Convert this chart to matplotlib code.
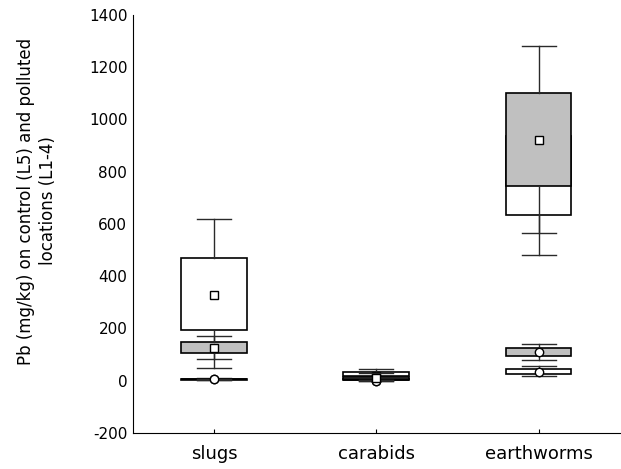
import numpy as np
import matplotlib
matplotlib.use('Agg')
import matplotlib.pyplot as plt

# categories
groups = ['slugs', 'carabids', 'earthworms']

# polluted locations (L1-4), white boxes, square marker
pol_w_q1 = [195, 16, 634]
pol_w_q3 = [470, 33, 935]
pol_w_lo = [83, 5, 482]
pol_w_hi = [619, 45, 935]
pol_w_mean = [329, 18, 780]

# polluted locations, grey boxes, square marker
pol_g_q1 = [106, 5, 746]
pol_g_q3 = [147, 15, 1103]
pol_g_lo = [49, 2, 566]
pol_g_hi = [170, 28, 1282]
pol_g_mean = [124, 12, 922]

# control (L5), white boxes, circle marker
con_w_q1 = [4, 2, 26]
con_w_q3 = [8, 5, 45]
con_w_lo = [3, -3, 19]
con_w_hi = [9, 6, 55]
con_w_mean = [6, 0, 33]

# control, grey boxes, circle marker
con_g_q1 = [5, 1, 96]
con_g_q3 = [8, 4, 125]
con_g_lo = [4, -2, 80]
con_g_hi = [8, 5, 140]
con_g_mean = [6, 0, 108]

plt.rcParams['font.family'] = ['DejaVu Sans']
plt.rcParams['axes.unicode_minus'] = False

fig = plt.figure(figsize=(6.21, 4.69), dpi=100)
ax = fig.add_axes([0.214, 0.077, 0.784, 0.891])

pos = np.arange(1, len(groups) + 1)


def stats(q1, q3, lo, hi, mean):
    out = []
    for i in range(len(q1)):
        out.append(dict(med=mean[i], q1=q1[i], q3=q3[i], whislo=lo[i],
                        whishi=hi[i], mean=mean[i], fliers=[]))
    return out


def draw(st, fill, marker, z):
    ax.bxp(st, positions=pos, widths=0.405, capwidths=0.21,
           patch_artist=True, showmeans=True, showfliers=False,
           boxprops=dict(facecolor=fill, edgecolor='black', linewidth=1.2),
           whiskerprops=dict(color='#2a2a2a', linewidth=1.0),
           capprops=dict(color='#2a2a2a', linewidth=1.0),
           medianprops=dict(linewidth=0),
           meanprops=dict(marker=marker, markerfacecolor='white',
                          markeredgecolor='black', markersize=6,
                          markeredgewidth=1.0),
           zorder=z)


draw(stats(con_w_q1, con_w_q3, con_w_lo, con_w_hi, con_w_mean), 'white', 'o', 2)
draw(stats(con_g_q1, con_g_q3, con_g_lo, con_g_hi, con_g_mean), '#c0c0c0', 'o', 3)
draw(stats(pol_w_q1, pol_w_q3, pol_w_lo, pol_w_hi, pol_w_mean), 'white', 's', 4)
draw(stats(pol_g_q1, pol_g_q3, pol_g_lo, pol_g_hi, pol_g_mean), '#c0c0c0', 's', 5)

ax.set_xlim(0.5, 3.5)
ax.set_ylim(-200, 1400)
ax.set_yticks(np.arange(-200, 1401, 200))
ax.set_xticks(pos)
ax.set_xticklabels(groups)
ax.tick_params(axis='x', direction='in', length=3, labelsize=13, pad=9)
ax.tick_params(axis='y', length=0, labelsize=11, pad=4)
ax.spines['top'].set_visible(False)
ax.spines['right'].set_visible(False)
ax.set_ylabel('Pb (mg/kg) on control (L5) and polluted\nlocations (L1-4)',
              fontsize=12, linespacing=1.3)
ax.yaxis.set_label_coords(-0.155, 0.555)

fig.savefig('out.png', dpi=100)
